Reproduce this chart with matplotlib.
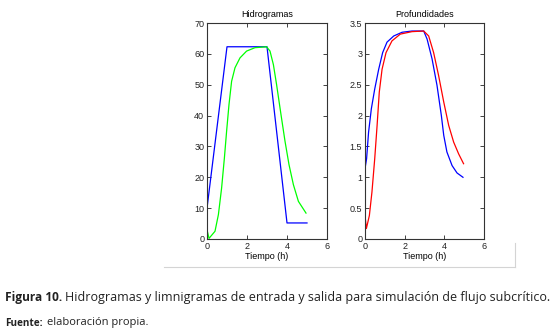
import matplotlib
matplotlib.use("Agg")
import matplotlib.pyplot as plt
from matplotlib.lines import Line2D

# Hidrogramas (caudal, m3/s)
t_q_in = [0.0, 0.01, 1.0, 3.0, 4.0, 5.0]
q_in = [0.0, 10.5, 62.3, 62.3, 5.2, 5.2]
t_q_out = [0.0, 0.1, 0.4, 0.57, 0.73, 0.87, 0.98, 1.1, 1.23, 1.4, 1.65, 1.98,
           2.4, 2.98, 3.15, 3.32, 3.48, 3.7, 3.9, 4.1, 4.32, 4.57, 4.95]
q_out = [3.0, 0.2, 2.5, 7.9, 16.5, 26.3, 34.9, 43.6, 51.1, 55.5, 58.7, 60.9,
         62.0, 62.3, 60.9, 56.5, 50.0, 40.3, 31.7, 24.1, 17.6, 12.2, 8.4]

# Profundidades (m)
t_h_in = [0.0, 0.0, 0.08, 0.18, 0.32, 0.49, 0.69, 0.89, 1.11, 1.45, 1.87,
          2.37, 2.96, 3.13, 3.38, 3.63, 3.85, 3.97, 4.13, 4.39, 4.64, 4.94]
h_in = [0.5, 1.14, 1.3, 1.73, 2.11, 2.43, 2.75, 3.02, 3.19, 3.29, 3.35,
        3.37, 3.37, 3.24, 2.92, 2.49, 2.0, 1.68, 1.41, 1.19, 1.07, 1.0]
t_h_out = [0.0, 0.07, 0.22, 0.35, 0.49, 0.61, 0.72, 0.86, 1.06, 1.36, 1.78,
           2.37, 2.96, 3.21, 3.46, 3.71, 3.97, 4.22, 4.47, 4.72, 4.97]
h_out = [0.38, 0.17, 0.38, 0.76, 1.3, 1.84, 2.38, 2.75, 3.02, 3.21, 3.32,
         3.36, 3.37, 3.29, 3.02, 2.65, 2.22, 1.84, 1.57, 1.38, 1.22]

W, H = 560, 334
fig = plt.figure(figsize=(W / 100, H / 100), dpi=100)
fig.patch.set_facecolor("white")

tick_font = {"family": "Liberation Sans", "size": 6.5}


def style_axes(ax):
    ax.set_xlim(0, 6)
    ax.set_xticks([0, 2, 4, 6])
    ax.tick_params(direction="in", length=3, width=0.6, top=True, right=True,
                   labelsize=6.5, pad=2, colors="#222222")
    for lab in ax.get_xticklabels() + ax.get_yticklabels():
        lab.set_family("Liberation Sans")
    for s in ax.spines.values():
        s.set_linewidth(0.8)
        s.set_color("#333333")
    ax.set_xlabel("Tiempo (h)", fontdict=tick_font, labelpad=1)


ax1 = fig.add_axes([207 / W, 1 - 239 / H, 120 / W, 216 / H])
ax1.plot(t_q_in, q_in, color="blue", lw=0.9)
ax1.plot(t_q_out, q_out, color="#00ff00", lw=0.9)
ax1.set_ylim(0, 70)
ax1.set_yticks(range(0, 71, 10))
style_axes(ax1)
ax1.set_title("Hidrogramas", fontdict=tick_font, pad=4)

ax2 = fig.add_axes([365 / W, 1 - 239 / H, 119 / W, 216 / H])
ax2.plot(t_h_in, h_in, color="blue", lw=0.9)
ax2.plot(t_h_out, h_out, color="red", lw=0.9)
ax2.set_ylim(0, 3.5)
ax2.set_yticks([0, 0.5, 1, 1.5, 2, 2.5, 3, 3.5])
ax2.set_yticklabels(["0", "0.5", "1", "1.5", "2", "2.5", "3", "3.5"])
style_axes(ax2)
ax2.set_title("Profundidades", fontdict=tick_font, pad=4)

# marco gris alrededor de la figura
fig.add_artist(Line2D([164 / W, 515 / W], [1 - 267 / H, 1 - 267 / H],
                      color="#d4d4d4", lw=0.8))
fig.add_artist(Line2D([515 / W, 515 / W], [1 - 243 / H, 1 - 267 / H],
                      color="#d4d4d4", lw=0.8))

# pie de figura: parte en negrita y luego texto normal a continuación
renderer = fig.canvas.get_renderer()


def caption(y_px, bold, normal, size_b, size_n, gap_px):
    tb = fig.text(5 / W, 1 - y_px / H, bold, fontfamily="Open Sans",
                  fontweight="bold", fontsize=size_b, va="center",
                  color="#222222")
    x_end = tb.get_window_extent(renderer).x1
    fig.text((x_end + gap_px) / W, 1 - y_px / H, normal,
             fontfamily="Open Sans", fontsize=size_n, va="center",
             color="#222222")


caption(297, "Figura 10.",
        "Hidrogramas y limnigramas de entrada y salida para simulación de flujo subcrítico.",
        8.6, 9.0, 3)
caption(323, "Fuente:", "elaboración propia.", 7.2, 8.0, 4)

fig.savefig("out.png", dpi=100)
